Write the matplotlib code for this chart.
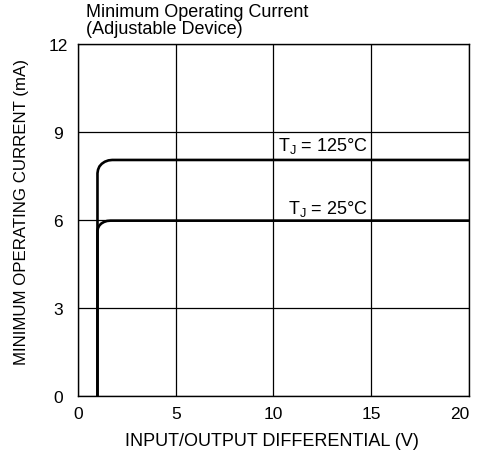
import matplotlib
matplotlib.use("Agg")
import matplotlib.pyplot as plt

plt.rcParams["font.family"] = ["Liberation Sans", "DejaVu Sans"]

# curves (x = V, y = mA)
t125_x = [1.0, 1.0, 1.03, 1.10, 1.22, 1.375, 1.56, 1.75, 20.0]
t125_y = [0.0, 7.60, 7.72, 7.83, 7.92, 7.99, 8.035, 8.05, 8.05]
t25_x = [1.0, 1.0, 1.03, 1.09, 1.19, 1.33, 1.49, 1.66, 20.0]
t25_y = [0.0, 5.64, 5.73, 5.81, 5.88, 5.935, 5.97, 5.98, 5.98]

x_ticks = [0, 5, 10, 15, 20]
y_ticks = [0, 3, 6, 9, 12]

fig = plt.figure(figsize=(4.81, 4.56), dpi=100)
ax = fig.add_axes([0.162, 0.1294, 0.813, 0.7716])

ax.plot(t125_x, t125_y, color="black", lw=1.9, zorder=3, solid_joinstyle="round")
ax.plot(t25_x, t25_y, color="black", lw=1.9, zorder=3, solid_joinstyle="round")

ax.set_xlim(0, 20)
ax.set_ylim(0, 12)
ax.set_xticks(x_ticks)
ax.set_yticks(y_ticks)
ax.tick_params(length=0, labelsize=12.5)
ax.tick_params(axis="x", pad=7)
ax.tick_params(axis="y", pad=14.4)
for lab in ax.get_yticklabels():
    lab.set_ha("center")
ax.get_xticklabels()[-1].set_ha("right")
ax.grid(True, color="black", lw=0.9)
for s in ax.spines.values():
    s.set_linewidth(1.0)

box = dict(facecolor="white", edgecolor="none", pad=0.8)
ax.text(14.83, 8.57, r"T$_\mathregular{J}$ = 125°C", fontsize=13,
        ha="right", va="center", bbox=box, zorder=4)
ax.text(14.83, 6.42, r"T$_\mathregular{J}$ = 25°C", fontsize=13,
        ha="right", va="center", bbox=box, zorder=4)

ax.set_xlabel("INPUT/OUTPUT DIFFERENTIAL (V)", fontsize=13, va="top")
ax.xaxis.set_label_coords(0.495, -0.102)
ax.set_ylabel("MINIMUM OPERATING CURRENT (mA)", fontsize=12.2)
ax.yaxis.set_label_coords(-0.125, 0.525)
fig.text(0.179, 0.992, "Minimum Operating Current\n(Adjustable Device)",
         fontsize=13, ha="left", va="top", linespacing=1.0)

fig.savefig("out.png", dpi=100)
